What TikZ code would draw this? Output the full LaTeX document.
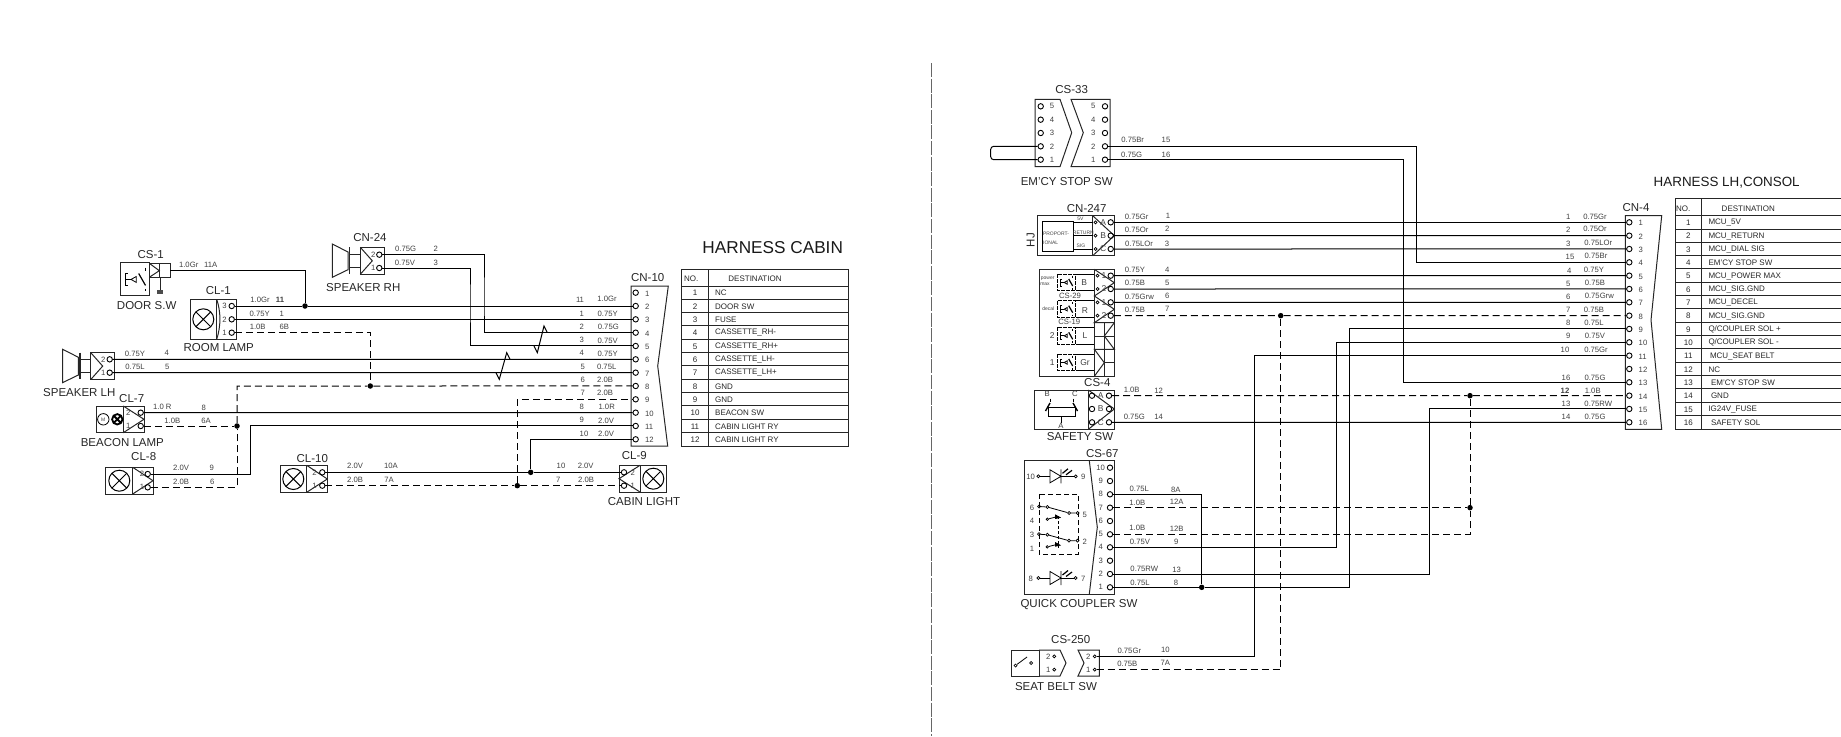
\documentclass[tikz,border=0pt]{standalone}
\usepackage{fontspec}
\setmainfont{Liberation Sans}
\usepackage{tikz}

\tikzset{
	wire/.style={line width=1pt,black},
	gndwire/.style={wire,dash pattern=on 7pt off 4pt},
	body/.style={line width=1pt,black!85},
	pinhole/.style={shape=circle,draw,line width=.9pt,inner sep=0pt,minimum size=5.4pt},
	tinyhole/.style={shape=circle,draw,line width=.7pt,inner sep=0pt,minimum size=3pt},
	junction/.style={shape=circle,fill=black,inner sep=0pt,minimum size=5.5pt},
	lampsym/.style={shape=circle,draw,line width=1pt,inner sep=0pt,minimum size=21pt,
		path picture={\draw[line width=1pt] (path picture bounding box.north west) -- (path picture bounding box.south east)
			(path picture bounding box.north east) -- (path picture bounding box.south west);}},
	devname/.style={inner sep=0pt,text=black!85,font=\fontsize{11.5}{13}\selectfont},
	wirelab/.style={inner sep=0pt,text=black!75,font=\fontsize{7.7}{9}\selectfont},
	pinlab/.style={inner sep=0pt,text=black!75,font=\fontsize{7.7}{9}\selectfont},
	tablab/.style={inner sep=0pt,text=black!85,font=\fontsize{8}{10}\selectfont},
	titlelab/.style={inner sep=0pt,text=black!90,font=\fontsize{17.2}{19}\selectfont},
	microlab/.style={inner sep=0pt,text=black!75,font=\fontsize{5}{6}\selectfont},
	mswitch/.pic={
		\draw[line width=.8pt] (4.5,5) -- (3,5) -- (3,12) -- (4.5,12) (3,8.5) -- (6.5,8.5);
		\draw[line width=.8pt] (6.5,8.5) -- (9.5,6.8) -- (9.5,10.2) -- cycle;
		\draw[line width=1.2pt] (15,12) -- (11,5);
		\draw[line width=1pt] (15,1.5) -- (15,3.5) (15,14) -- (15,15.5);
	},
	speaker/.pic={
		\draw[body] (0,0) -- (15.7,8) -- (15.7,25.7) -- (0,33.3) -- cycle;
		\draw[line width=1.6pt,black!85] (17.3,3.3) -- (17.3,30);
		\draw[body] (17.3,10) -- (28,10) (17.3,23.3) -- (28,23.3);
		\draw[body] (28,3.3) rectangle (52,30.3);
		\draw[body] (28,3.3) -- (40,16.8) -- (28,30.3);
	},
}

\begin{document}
\begin{tikzpicture}[x=1pt,y=-1pt]
	\useasboundingbox (0,0) rectangle (1841,736);
	\draw[line width=1.4pt,black!60,dash pattern=on 14pt off 1.6pt] (931.7,63) -- (931.7,736);

	\foreach \n in {1,...,12}{
		\node at(635.67,{292.67+13.33*(\n-1)})[pinhole](cnten-\n){};
		\node at(645,{293.5+13.33*(\n-1)})[pinlab,anchor=west](tenno\n){\n};
	}
	\draw[body] (631,286) -- (668.3,286) -- (657.7,366) -- (667.7,446) -- (631,446) -- cycle;
	\node at(647.7,277.7)[devname](cntenname){CN-10};
	\node at(772.7,247.3)[titlelab](cabtitle){HARNESS CABIN};

	\draw[body] (681.33,269.33) rectangle (848.7,446) (708.3,269.33) -- (708.3,446);
	\foreach \i in {0,...,11} {\draw[body] (681.33,{286+13.33*\i}) -- (848.7,{286+13.33*\i});}
	\node at(691.3,279)[tablab](cabno){NO.};
	\node at(755,279)[tablab](cabdest){DESTINATION};
	\foreach \t [count=\i] in {NC,DOOR SW,FUSE,CASSETTE\_RH-,CASSETTE\_RH+,CASSETTE\_LH-,CASSETTE\_LH+,GND,GND,BEACON SW,CABIN LIGHT RY,CABIN LIGHT RY}{
		\node at(695,{293+13.33*(\i-1)})[tablab](cabnum\i){\i};
		\node at(715,{293+13.33*(\i-1)})[tablab,anchor=west](cabrow\i){\t};
	}

	% cabin devices
	\draw[body] (120,262.7) rectangle (149.3,295.3);
	\draw[body] (149.3,263.3) rectangle (170,277.3) (159.3,263.3) -- (159.3,277.3);
	\draw[body] (149.3,263.3) -- (159.3,270.67) -- (149.3,277.3);
	\draw[body] (160,277.3) -- (160,290);
	\fill[black!70] (157,290) rectangle (163,294);
	\pic at(120,265)[scale=1.7]{mswitch};
	\coordinate (doorend) at(170,270.67);
	\node at(150.7,255)[devname](csone){CS-1};
	\node at(146.7,306)[devname](doorsw){DOOR S.W};

	\draw[body] (190,299.3) rectangle (236.7,339.3) (216.7,299.3) -- (216.7,339.3);
	\draw[body] (216.7,299.3) .. controls (221,312) and (221,326) .. (216.7,339.3);
	\node at(203.3,319.3)[lampsym](lampone){};
	\foreach \n/\y in {3/306,2/319.33,1/332.67}{
		\node at(231.7,\y)[pinhole](clone-\n){};
		\node at(224.5,\y)[pinlab](cloneno\n){\n};
	}
	\node at(218.3,291)[devname](clone){CL-1};
	\node at(218.7,348)[devname](roomlamp){ROOM LAMP};

	\pic at(332.3,244){speaker};
	\node at(379.3,254.67)[pinhole](cnff-2){};
	\node at(379.3,268)[pinhole](cnff-1){};
	\node at(373.3,254.67)[pinlab](cnffno2){2};
	\node at(373.3,268)[pinlab](cnffno1){1};
	\node at(370,238)[devname](cnff){CN-24};
	\node at(363.3,288)[devname](spkrh){SPEAKER RH};

	\pic at(62.7,349.3){speaker};
	\node at(109.7,359.33)[pinhole](spl-2){};
	\node at(109.7,372.67)[pinhole](spl-1){};
	\node at(103.3,359.33)[pinlab](splno2){2};
	\node at(103.3,372.67)[pinlab](splno1){1};
	\node at(79.3,392.7)[devname](splh){SPEAKER LH};

	\draw[body] (96.7,406) rectangle (144,432.7) (123.3,406) -- (123.3,432.7);
	\draw[body] (123.3,406) -- (144,419.3) -- (123.3,432.7);
	\draw[line width=.8pt] (103.3,419.3) circle (5.7);
	\node at(103.3,419.3)[microlab](mot){M};
	\draw[line width=1.8pt] (117.3,419.3) circle (5.2) (113.6,415.6) -- (121,423) (121,415.6) -- (113.6,423);
	\node at(140.7,412.67)[pinhole](clseven-2){};
	\node at(140.7,426)[pinhole](clseven-1){};
	\node at(128.3,412.67)[pinlab](clsevenno2){2};
	\node at(128.3,426)[pinlab](clsevenno1){1};
	\node at(131.7,398.3)[devname](clseven){CL-7};
	\node at(122.3,442.7)[devname](beacon){BEACON LAMP};

	\draw[body] (105.7,467.3) rectangle (153,494) (132.7,467.3) -- (132.7,494);
	\draw[body] (132.7,467.3) -- (153,480.7) -- (132.7,494);
	\node at(119.3,480.7)[lampsym](lampeight){};
	\node at(147.7,474)[pinhole](cleight-2){};
	\node at(147.7,487.33)[pinhole](cleight-1){};
	\node at(142,474)[pinlab](cleightno2){2};
	\node at(142,487.33)[pinlab](cleightno1){1};
	\node at(143.7,457)[devname](cleight){CL-8};

	\draw[body] (280,465.3) rectangle (327.3,492.3) (306.7,465.3) -- (306.7,492.3);
	\draw[body] (306.7,465.3) -- (327.3,479) -- (306.7,492.3);
	\node at(293.3,479)[lampsym](lampten){};
	\node at(322.3,472.33)[pinhole](clten-2){};
	\node at(322.3,485.67)[pinhole](clten-1){};
	\node at(314.5,472.33)[pinlab](cltenno2){2};
	\node at(314.5,485.67)[pinlab](cltenno1){1};
	\node at(312.3,459)[devname](clten){CL-10};

	\draw[body] (619,465.3) rectangle (666.7,492) (640,465.3) -- (640,492);
	\draw[body] (640,465.3) -- (619,478.7) -- (640,492);
	\node at(653.3,478.7)[lampsym](lampnine){};
	\node at(624,472.33)[pinhole](clnine-2){};
	\node at(624,485.67)[pinhole](clnine-1){};
	\node at(632.7,472.33)[pinlab](clnineno2){2};
	\node at(632.7,485.67)[pinlab](clnineno1){1};
	\node at(634.3,456)[devname](clnine){CL-9};
	\node at(644,502)[devname](cablight){CABIN LIGHT};

	\node at(305,306)[junction](jdoor){};
	\node at(370.3,386)[junction](jgnd){};
	\node at(237,426)[junction](jbeacon){};
	\node at(530.7,472.33)[junction](jcaba){};
	\node at(517.3,485.67)[junction](jcabb){};
	\coordinate (bendrhg) at(484,300);
	\coordinate (bendrhv) at(470,300);
	\coordinate (bendgnd) at(237,386);
	\coordinate (bendnine) at(250.3,450);

	\draw[wire] (doorend) -| (jdoor);
	\draw[wire] (clone-3) -- (jdoor) -- (cnten-2);
	\draw[wire] (clone-2) -- (cnten-3);
	\draw[wire] (cnff-2) -| (bendrhg) |- (cnten-4);
	\draw[wire] (cnff-1) -| (bendrhv) |- (cnten-5);
	\draw[wire] (spl-2) -- (cnten-6);
	\draw[wire] (spl-1) -- (cnten-7);
	\draw[wire] (clseven-2) -- (cnten-10);
	\draw[wire] (cleight-2) -| (bendnine) |- (cnten-11);
	\draw[wire] (clten-2) -- (jcaba) -- (clnine-2);
	\draw[wire] (jcaba) |- (cnten-12);
	\draw[gndwire] (clone-1) -| (jgnd);
	\draw[gndwire] (cleight-1) -| (jbeacon);
	\draw[gndwire] (jbeacon) -- (bendgnd) -- (jgnd) -- (cnten-8);
	\draw[gndwire] (clseven-1) -- (jbeacon);
	\draw[gndwire] (clten-1) -- (jcabb) -- (clnine-1);
	\draw[gndwire] (jcabb) |- (cnten-9);
	\draw[wire] (534,346) -- (537.3,352.7) -- (544,326) -- (547.3,332.67);
	\draw[wire] (496,372.67) -- (499.3,379.3) -- (506.7,352.7) -- (510,359.33);

	\foreach \x/\y/\t [count=\i] in {188.7/265.3/1.0Gr,210.7/265.3/11A,260/300.3/1.0Gr,259.7/314.3/0.75Y,281.7/314.3/1,257.7/327.3/1.0B,284.3/327/6B,
		405.7/249.3/0.75G,435.7/249/2,405/263.3/0.75V,435.7/262.7/3,135/354/0.75Y,166.7/353.3/4,135/367/0.75L,167.3/367/5,
		162.3/407.3/1.0 R,203.7/408/8,172.3/421.3/1.0B,206/421/6A,181/468.3/2.0V,211.7/468.3/9,181/482.3/2.0B,212.3/482.3/6,
		355/466.3/2.0V,391/466.3/10A,355/480.3/2.0B,389/480.3/7A,561/466.3/10,585.7/466.3/2.0V,558.3/480.3/7,586/480.3/2.0B,
		580/300/11,607/299.3/1.0Gr,581.7/313.7/1,607.7/314.3/0.75Y,581.7/327/2,608.3/327.3/0.75G,581.7/340.3/3,607.7/340.7/0.75V,
		581.7/353.3/4,607.7/354/0.75Y,582.7/366.7/5,606.7/367.3/0.75L,582.7/380/6,605/380/2.0B,582.7/393/7,605/393.3/2.0B,
		581.7/407/8,606.7/407.3/1.0R,581.7/420.3/9,606/421/2.0V,584/434.3/10,606/434.3/2.0V}{
		\node at(\x,\y)[wirelab](cabwl\i){\t};
	}
	\node at(280,300.3)[wirelab,font=\fontsize{7.7}{9}\selectfont\bfseries](cabwlb){11};

	\foreach \n in {1,...,16}{
		\node at(1629.3,{222.33+13.33*(\n-1)})[pinhole](cnfour-\n){};
		\node at(1638.5,{223.2+13.33*(\n-1)})[pinlab,anchor=west](fourno\n){\n};
	}
	\draw[body] (1625.3,215.7) -- (1661.7,215.7) -- (1651,320) -- (1661.7,429.3) -- (1625.3,429.3) -- cycle;
	\node at(1636,207.3)[devname](cnfour){CN-4};
	\node at(1726.7,182.3)[titlelab,font=\fontsize{13.4}{15}\selectfont](contitle){HARNESS LH,CONSOL};

	\draw[body] (1841,198.7) -- (1675,198.7) -- (1675,429.3) -- (1841,429.3) (1701.7,198.7) -- (1701.7,429.3);
	\foreach \i in {0,...,15} {\draw[body] (1675,{215.67+13.33*\i}) -- (1841,{215.67+13.33*\i});}
	\node at(1683.3,208.7)[tablab](conno){NO.};
	\node at(1748.3,208.7)[tablab](condest){DESTINATION};
	\foreach \t [count=\i] in {MCU\_5V,MCU\_RETURN,MCU\_DIAL SIG,EM'CY STOP SW,MCU\_POWER MAX,MCU\_SIG.GND,MCU\_DECEL,MCU\_SIG.GND,Q/COUPLER SOL +,Q/COUPLER SOL -,\hspace*{1.5pt}MCU\_SEAT BELT,NC,\hspace*{2.5pt}EM'CY STOP SW,\hspace*{2.5pt}GND,IG24V\_FUSE,\hspace*{2.5pt}SAFETY SOL}{
		\node at(1688.3,{222.8+13.33*(\i-1)})[tablab](connum\i){\i};
		\node at(1708.3,{222.8+13.33*(\i-1)})[tablab,anchor=west](conrow\i){\t};
	}

	% console devices
	\draw[body] (1035,99.3) -- (1060,99.3) -- (1071.7,132.7) -- (1060,166.7) -- (1035,166.7) -- cycle;
	\draw[body] (1110,99.3) -- (1071,99.3) -- (1083.3,132.7) -- (1071,166.7) -- (1110,166.7) -- cycle;
	\foreach \n/\y in {5/106.33,4/119.67,3/133,2/146.33,1/159.67}{
		\node at(1040.7,\y)[pinhole](emcyl-\n){};
		\node at(1052,\y)[pinlab](emcylno\n){\n};
		\node at(1105,\y)[pinhole](emcyr-\n){};
		\node at(1093.3,\y)[pinlab](emcyrno\n){\n};
	}
	\coordinate (emcyloop) at(990.7,153);
	\draw[wire,rounded corners=3pt] (emcyl-2) -| (emcyloop) |- (emcyl-1);
	\node at(1071.7,89.3)[devname](cstt){CS-33};
	\node at(1066.7,181.3)[devname](emcysw){EM'CY STOP SW};

	\draw[body] (1037.3,215.7) rectangle (1114.3,255.7) (1092.7,215.7) -- (1092.7,255.7);
	\draw[body] (1092.7,215.7) -- (1114.3,235.67) -- (1092.7,255.7);
	\draw[line width=.7pt] (1073.3,221) -- (1042.3,221) -- (1042.3,251) -- (1073.3,251) -- (1073.3,221);
	\draw[line width=.7pt] (1073.3,222.33) -- (1092.7,222.33) (1073.3,235.67) -- (1092.7,235.67) (1073.3,249) -- (1092.7,249);
	\node at(1056,233.3)[microlab](propa){PROPORT-};
	\node at(1050.7,242.3)[microlab](propb){IONAL};
	\node at(1080.5,219)[microlab](propc){5V};
	\node at(1083.3,232.5)[microlab](propd){RETURN};
	\node at(1081,245.7)[microlab](prope){SIG};
	\node at(1030.7,240)[devname,rotate=90](hjlab){HJ};
	\foreach \n/\t/\y in {1/A/222.33,2/B/235.67,3/C/249}{
		\node at(1110.7,\y)[pinhole](prop-\n){};
		\node at(1095.5,\y)[tinyhole](propin\n){};
		\node at(1103.3,\y)[pinlab,font=\fontsize{8.5}{9}\selectfont](propno\n){\t};
	}
	\node at(1086.7,209)[devname](cnpf){CN-247};

	\draw[body] (1039.3,269.3) rectangle (1114.3,376.3) (1094.3,269.3) -- (1094.3,376.3) (1104.3,322.7) -- (1104.3,376.3);
	\draw[body] (1094.3,269.3) -- (1114.3,282.7) -- (1094.3,296) -- (1114.3,309.3) -- (1094.3,322.7) -- (1114.3,322.7);
	\draw[body] (1114.3,322.7) -- (1104.3,336) -- (1114.3,349.3) -- (1094.3,349.3) -- (1104.3,362.7) -- (1094.3,376.3);
	\draw[body] (1094.3,336) -- (1114.3,336) (1104.3,362.7) -- (1114.3,362.7);
	\foreach \y in {274,300.7,327.3,354}{
		\draw[line width=.6pt,dash pattern=on 4pt off 1pt] (1057.7,\y) rectangle (1075.7,\y+16.7);
		\draw[line width=.7pt] (1075.7,\y) -- (1094.3,\y) (1075.7,\y+16.7) -- (1094.3,\y+16.7);
		\pic at(1057.7,\y){mswitch};
	}
	\foreach \n/\t/\y in {1/1/275.67,2/2/289,3/1/302.33,4/2/315.67}{
		\node at(1110.7,\y)[pinhole](blk-\n){};
		\node at(1097.5,\y)[tinyhole](blkin\n){};
		\node at(1104,\y)[pinlab,font=\fontsize{8.5}{9}\selectfont](blkno\n){\t};
	}
	\foreach \x/\y/\t [count=\i] in {1084.3/282.3/B,1085/310.7/R,1085/335.7/L,1085/362.3/Gr,1052.3/335.7/2,1052.3/362.3/1}{
		\node at(\x,\y)[pinlab,font=\fontsize{8.5}{9}\selectfont](blkt\i){\t};
	}
	\foreach \x/\y/\t [count=\i] in {1047.7/279/power,1045/284/max,1048.3/308.3/decal}{
		\node at(\x,\y)[microlab](blkm\i){\t};
	}
	\node at(1070,295.5)[pinlab](cstn){CS-29};
	\node at(1069.3,322)[pinlab](csnt){CS-19};

	\draw[body] (1034.3,390) rectangle (1114.3,429.3) (1088.3,390) -- (1088.3,429.3);
	\draw[body] (1088.3,390) -- (1114.3,409) -- (1088.3,429.3);
	\draw[line width=.8pt] (1048,407) -- (1075,407) (1048,407) -- (1048,416) -- (1075,416) -- (1075,407) (1061.7,416) -- (1061.7,423);
	\draw[line width=1.4pt] (1045.5,411) -- (1050,403) (1077.5,411) -- (1073,403);
	\draw[line width=.8pt] (1050,398.5) -- (1050,402) (1073,398.5) -- (1073,402);
	\foreach \n/\t/\y in {a/A/395.67,b/B/409,c/C/422.33}{
		\node at(1109,\y)[pinhole](safe-\n){};
		\node at(1092,\y)[pinhole](safein\n){};
		\node at(1100.7,\y)[pinlab,font=\fontsize{8.5}{9}\selectfont](safeno\n){\t};
	}
	\foreach \x/\y/\t [count=\i] in {1047.3/394/B,1075/394/C,1061/426/A}{
		\node at(\x,\y)[pinlab](safet\i){\t};
	}
	\node at(1097.3,383)[devname](csfour){CS-4};
	\node at(1080,436.3)[devname](safesw){SAFETY SW};

	\draw[body] (1024,460.7) rectangle (1114.3,594);
	\draw[body] (1089.3,460.7) -- (1097.3,527.3) -- (1089.3,594);
	\foreach \n/\y in {10/467.67,9/481,8/494.33,7/507.67,6/521,5/534.33,4/547.33,3/560.67,2/574,1/587.33}{
		\node at(1110,\y)[pinhole](qc-\n){};
		\node at(1100.7,\y)[pinlab](qcno\n){\n};
	}
	\node at(1102.3,454)[devname](csss){CS-67};
	\node at(1079,605)[devname](qcsw){QUICK COUPLER SW};
	\foreach \y/\r/\s [count=\i] in {476.3/10/9,578/8/7}{
		\node at(1038.3,\y)[tinyhole](ledl\i){};
		\node at(1075.7,\y)[tinyhole](ledr\i){};
		\node at(1030.7,\y+.7)[pinlab](ledln\i){\r};
		\node at(1083.3,\y+.7)[pinlab](ledrn\i){\s};
		\draw[line width=.8pt] (ledl\i) -- (1050,\y) (1061,\y) -- (ledr\i);
		\draw[line width=.8pt] (1050,\y-6.5) -- (1061,\y) -- (1050,\y+6.5) -- cycle (1061,\y-7) -- (1061,\y+7);
		\draw[line width=1.2pt] (1062.5,\y-3) -- (1068,\y-7.5) (1066,\y-1.5) -- (1072,\y-6);
	}
	\draw[line width=.8pt,dash pattern=on 5pt off 3pt] (1039,494) rectangle (1078,554);
	\foreach \y/\a/\b [count=\i] in {506.5/6/5,534.2/3/2}{
		\node at(1039,\y)[tinyhole](swa\i){};
		\node at(1047.3,\y+.5)[tinyhole](swb\i){};
		\node at(1069,\y+6.5)[tinyhole](swc\i){};
		\node at(1077.5,\y+6.5)[tinyhole](swd\i){};
		\draw[line width=.8pt] (swa\i) -- (swb\i) -- (swc\i) -- (swd\i);
		\node at(1032,\y+1)[pinlab](swan\i){\a};
		\node at(1084.7,\y+8)[pinlab](swdn\i){\b};
		\node at(1047.3,\y+12.7)[tinyhole,minimum size=2.5pt](swe\i){};
		\draw[line width=.8pt] (swe\i) -- (1055,\y+10.7);
		\draw[line width=.8pt,fill=black] (1055.5,\y+8.5) -- (1060,\y+11) -- (1055.5,\y+12) -- cycle;
	}
	\draw[line width=.7pt,dash pattern=on 3pt off 2pt] (1058.3,516) -- (1058.3,548);
	\node at(1032,521.3)[pinlab](swfour){4};
	\node at(1032,549)[pinlab](swone){1};

	\draw[body] (1011.7,650) rectangle (1039,676);
	\draw[body] (1039,650) -- (1060,650) -- (1066,663) -- (1060,676) -- (1039,676);
	\draw[body] (1099.3,650) -- (1078,650) -- (1084,663) -- (1078,676) -- (1099.3,676) -- cycle;
	\node at(1015.5,665.5)[tinyhole](seata){};
	\node at(1031,663)[tinyhole](seatb){};
	\draw[line width=.8pt] (seata) -- (1027,657);
	\foreach \n/\y in {2/656.33,1/669.67}{
		\node at(1054.3,\y)[tinyhole](seatl-\n){};
		\node at(1048.3,\y)[pinlab](seatln\n){\n};
		\node at(1094.7,\y)[tinyhole](seatr-\n){};
		\node at(1088.3,\y)[pinlab](seatrn\n){\n};
	}
	\node at(1070.7,640)[devname](cstfz){CS-250};
	\node at(1056,686.7)[devname](seatsw){SEAT BELT SW};

	\node at(1280.7,315.67)[junction](jseven){};
	\node at(1470,395.67)[junction](jtwelve){};
	\node at(1470,507.67)[junction](jtwelveb){};
	\node at(1201.7,587.33)[junction](jeight){};
	\coordinate (bendbr) at(1416.7,200);
	\coordinate (bendg) at(1403.3,300);
	\coordinate (bendl) at(1349.3,450);
	\coordinate (bendv) at(1336.3,450);
	\coordinate (bendgr) at(1254,500);
	\coordinate (bendrw) at(1429.7,500);

	\foreach \a/\b in {prop-1/cnfour-1,prop-2/cnfour-2,prop-3/cnfour-3,blk-1/cnfour-5,blk-2/cnfour-6,blk-3/cnfour-7,safe-c/cnfour-16}{
		\draw[wire] (\a) -- (\b);
	}
	\draw[wire] (emcyr-2) -| (bendbr) |- (cnfour-4);
	\draw[wire] (emcyr-1) -| (bendg) |- (cnfour-13);
	\draw[wire] (qc-8) -| (jeight);
	\draw[wire] (qc-1) -- (jeight) -| (bendl) |- (cnfour-9);
	\draw[wire] (qc-4) -| (bendv) |- (cnfour-10);
	\draw[wire] (qc-2) -| (bendrw) |- (cnfour-15);
	\draw[wire] (seatr-2) -| (bendgr) |- (cnfour-11);
	\draw[gndwire] (blk-4) -- (jseven) -- (cnfour-8);
	\draw[gndwire] (seatr-1) -| (jseven);
	\draw[gndwire] (safe-a) -- (jtwelve) -- (cnfour-14);
	\draw[gndwire] (qc-7) -- (jtwelveb);
	\draw[gndwire] (qc-5) -| (jtwelveb) -- (jtwelve);

	\foreach \x/\y/\t [count=\i] in {1132.7/140/0.75Br,1166/140/15,1131.7/154.7/0.75G,1166/154.7/16,
		1136.7/216.7/0.75Gr,1168/216/1,1136.7/230/0.75Or,1167.3/229.3/2,1139/244/0.75LOr,1167/244/3,
		1135/270/0.75Y,1167.3/270/4,1135/283.3/0.75B,1167.3/283.3/5,1139.3/296.7/0.75Grw,1167.3/296.3/6,1135/310/0.75B,1167.3/309/7,
		1131.7/390.3/1.0B,1158.7/390.7/12,1134.3/417/0.75G,1158.7/417/14,
		1139.3/489/0.75L,1175.7/490/8A,1137.3/503/1.0B,1176.7/502.3/12A,1137.3/528/1.0B,1176.7/529/12B,1140/542/0.75V,1176.3/542/9,
		1144.3/568.7/0.75RW,1176.7/569.7/13,1140/583.3/0.75L,1176/582.7/8,
		1129.3/651.3/0.75Gr,1165.3/650.3/10,1127.3/664/0.75B,1165.3/663.3/7A,
		1568.3/217.3/1,1595/217.3/0.75Gr,1568.3/230/2,1595/229.3/0.75Or,1568.3/244/3,1598.3/243.3/0.75LOr,1570/257.3/15,1596/256.3/0.75Br,
		1569.3/271/4,1594/270.3/0.75Y,1568.3/284/5,1595/283/0.75B,1568.3/297/6,1599.3/296.3/0.75Grw,1568.3/310/7,1594/310.3/0.75B,
		1568.3/323.3/8,1594/323.3/0.75L,1568.3/336.3/9,1595/336.3/0.75V,1565/350.3/10,1596/350.3/0.75Gr,1566/378.3/16,1595/378.3/0.75G,
		1592.7/391/1.0B,1566/404.3/13,1598.3/404.3/0.75RW,1566/417.3/14,1595/417.3/0.75G}{
		\node at(\x,\y)[wirelab](conwl\i){\t};
	}
	\node at(1565,391)[wirelab,font=\fontsize{7.7}{9}\selectfont\bfseries](conwlb){12};
\end{tikzpicture}
\end{document}
